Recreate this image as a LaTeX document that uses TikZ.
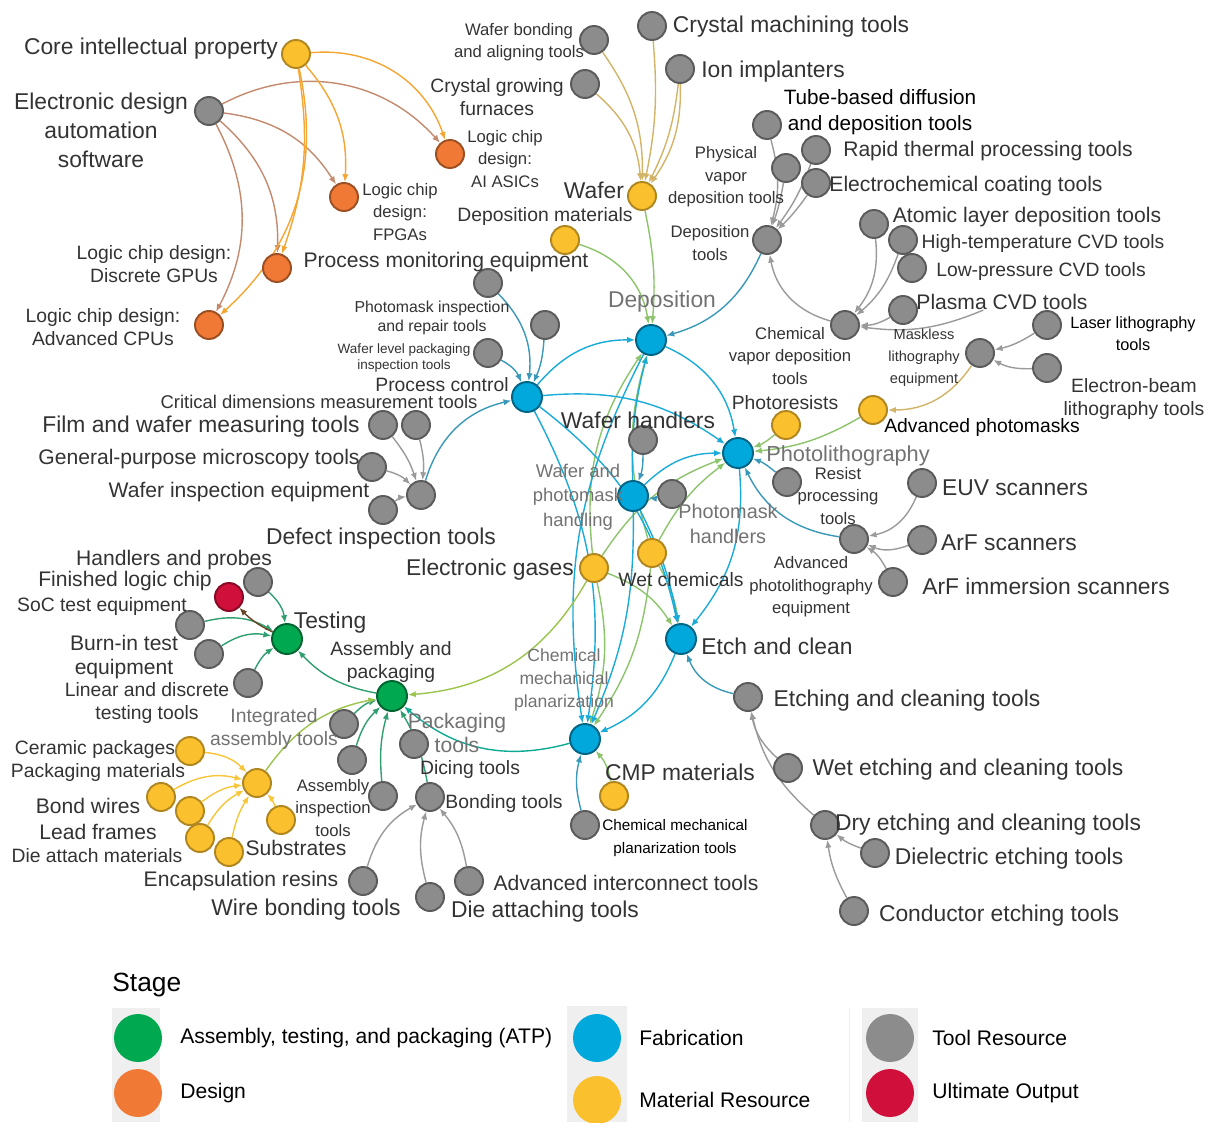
\documentclass[tikz,border=0pt]{standalone}
\usepackage{fontspec}
\setmainfont{Liberation Sans}
\usetikzlibrary{arrows.meta}

\definecolor{atpgreen}{HTML}{00A850}
\definecolor{designorange}{HTML}{F07A35}
\definecolor{fabblue}{HTML}{00A8DC}
\definecolor{matyellow}{HTML}{FBC02D}
\definecolor{toolgray}{HTML}{8C8C8C}
\definecolor{outred}{HTML}{D0103A}
\definecolor{txtgray}{HTML}{333333}
\definecolor{hubgray}{HTML}{727272}
\definecolor{legendbg}{HTML}{EFEFEF}
% edge colours
\definecolor{tooldesign}{HTML}{C48A6E}
\definecolor{matdesign}{HTML}{F5A532}
\definecolor{toolmat}{HTML}{D2B468}
\definecolor{matfab}{HTML}{8CC46C}
\definecolor{toolfab}{HTML}{3A98B8}
\definecolor{fabfab}{HTML}{1BABD8}
\definecolor{toolline}{HTML}{9A9A9A}
\definecolor{toolatp}{HTML}{2F9F70}
\definecolor{matatp}{HTML}{9CC44C}
\definecolor{matmat}{HTML}{F7C53A}

\pgfdeclarelayer{background}
\pgfsetlayers{background,main}

\tikzstyle{vertex}=[circle,draw,minimum size=0.56cm,inner sep=0pt,line width=1.1pt]
\tikzstyle{toolvertex}=[vertex,fill=toolgray,draw=toolgray!65!black]
\tikzstyle{matvertex}=[vertex,fill=matyellow,draw=matyellow!70!black]
\tikzstyle{designvertex}=[vertex,fill=designorange,draw=designorange!65!black]
\tikzstyle{fabvertex}=[vertex,fill=fabblue,draw=fabblue!60!black,minimum size=0.6cm]
\tikzstyle{atpvertex}=[vertex,fill=atpgreen,draw=atpgreen!60!black,minimum size=0.6cm]
\tikzstyle{outvertex}=[vertex,fill=outred,draw=outred!65!black]
\tikzstyle{lbl}=[inner sep=0pt,align=center,text=txtgray]
\tikzstyle{biglbl}=[lbl,font=\fontsize{13}{16.5}\selectfont]
\tikzstyle{midlbl}=[lbl,font=\fontsize{12}{14}\selectfont]
\tikzstyle{smlbl}=[lbl,font=\fontsize{11}{13.5}\selectfont]
\tikzstyle{xslbl}=[lbl,font=\fontsize{9.5}{12.8}\selectfont]
\tikzstyle{hublbl}=[lbl,text=hubgray]
\tikzstyle{edge}=[draw,line width=0.8pt,-{Latex[length=4.5pt,width=3.6pt]}]
\tikzstyle{keydot}=[circle,minimum size=0.96cm,inner sep=0pt]
\tikzstyle{keytext}=[anchor=west,inner sep=0pt,text=black,font=\fontsize{12}{14}\selectfont]

\begin{document}
\begin{tikzpicture}[x=0.02cm,y=-0.02cm]
\useasboundingbox (0,0) rectangle (1212,1122);

%% nodes
\foreach \x/\y/\name in {450/154/asic, 344/197/fpga, 277/268/gpu, 209/325/cpu}
  \node[designvertex] (\name) at (\x,\y) {};

\foreach \x/\y/\name in {296/54/cip, 642/196/wafer, 565/240/depmat, 786/425/presist, 873/410/amask,
    594/568/egas, 652/553/wetchem, 614/796/cmpmat, 190/751/cer, 257/783/pkm, 161/797/bw,
    190/811/lf, 200/838/lfb, 229/852/dam, 281/820/sub}
  \node[matvertex] (\name) at (\x,\y) {};

\foreach \x/\y/\name in {527/397/pctl, 651/340/dep, 738/453/litho, 633/496/wph, 681/639/etch, 585/739/cmp}
  \node[fabvertex] (\name) at (\x,\y) {};

\foreach \x/\y/\name in {287/639/test, 392/696/assy}
  \node[atpvertex] (\name) at (\x,\y) {};

\node[outvertex] (chip) at (229,597) {};

\foreach \x/\y/\name in {209/111/eda, 594/40/wba, 585/84/cgf, 652/26/cmt, 680/69/ion,
    488/283/pme, 545/325/pir, 488/353/wlp, 383/425/fwm, 416/425/cdm, 372/467/gpm, 383/510/wie, 421/495/dit,
    767/240/dtools, 786/168/pvd, 767/125/tube, 816/150/rtp, 816/183/ecc,
    845/325/cvd, 874/224/ald, 903/240/htcvd, 912/268/lpcvd, 903/310/pcvd,
    980/353/mless, 1047/325/laser, 1047/368/ebeam, 787/482/resist, 854/539/apl,
    922/483/euv, 922/540/arf, 893/582/arfi, 643/440/whand, 672/494/phand,
    748/697/ectools, 788/768/wetet, 825/825/dryet, 875/853/diel, 854/911/cond, 585/825/cmptools,
    258/582/hp, 190/625/soc, 209/654/burn, 248/683/lin,
    344/724/iat, 352/760/ga, 383/796/ait, 414/744/pkt, 430/797/bond,
    363/881/encap, 430/897/wbt, 469/881/aict}
  \node[toolvertex] (\name) at (\x,\y) {};

%% labels
\foreach \x/\y/\name/\text in {151/49/cip/Core intellectual property,
    101/130/eda/{Electronic design\\automation\\software},
    791/27/cmt/Crystal machining tools, 773/72/ion/Ion implanters, 594/190/wafer/Wafer,
    201/427/fwm/Film and wafer measuring tools, 381/539/dit/Defect inspection tools,
    490/570/egas/Electronic gases, 638/420/whand/Wafer handlers,
    1015/488/euv/EUV scanners, 1009/543/arf/ArF scanners, 1046/586/arfi/ArF immersion scanners,
    777/646/etch/Etch and clean, 907/701/ectools/Etching and cleaning tools,
    968/770/wetet/Wet etching and cleaning tools, 988/825/dryet/Dry etching and cleaning tools,
    1009/859/diel/Dielectric etching tools, 999/916/cond/Conductor etching tools,
    680/772/cmpmat/CMP materials, 330/623/test/Testing,
    306/910/wbt/Wire bonding tools, 545/912/dat/Die attaching tools}
  \node[biglbl] (l\name) at (\x,\y) {\text};

\foreach \x/\y/\name/\text in {446/262/pme/Process monitoring equipment,
    988/151/rtp/Rapid thermal processing tools, 966/186/ecc/Electrochemical coating tools,
    1027/217/ald/Atomic layer deposition tools, 1002/302/pcvd/Plasma CVD tools,
    239/492/wie/Wafer inspection equipment, 199/459/gpm/General-purpose microscopy tools,
    174/560/hp/Handlers and probes, 125/581/chip/Finished logic chip,
    241/881/encap/Encapsulation resins, 626/883/aict/Advanced interconnect tools,
    124/657/burn/{Burn-in test\\equipment}, 88/806/bw/Bond wires, 98/832/lf/Lead frames,
    296/848/sub/Substrates}
  \node[midlbl] (l\name) at (\x,\y) {\text};

\foreach \x/\y/\name/\text in {154/264/gpu/{Logic chip design:\\Discrete GPUs},
    103/327/cpu/{Logic chip design:\\Advanced CPUs}, 497/97/cgf/{Crystal growing\\furnaces},
    545/217/depmat/Deposition materials, 442/385/pctl/Process control,
    1043/244/htcvd/High-temperature CVD tools, 1041/271/lpcvd/Low-pressure CVD tools,
    1134/399/ebeam/{Electron-beam\\lithography tools}, 785/403/presist/Photoresists,
    681/580/wetchem/Wet chemicals, 102/606/soc/SoC test equipment,
    147/703/lin/{Linear and discrete\\testing tools}, 470/769/dice/Dicing tools,
    504/803/bond/Bonding tools, 95/749/cer/Ceramic packages, 98/772/pkm/Packaging materials,
    97/856/dam/Die attach materials, 391/662/assy/{Assembly and\\packaging}}
  \node[smlbl] (l\name) at (\x,\y) {\text};

\foreach \x/\y/\name/\text in {505/159/asic/{Logic chip\\design:\\AI ASICs},
    400/212/fpga/{Logic chip\\design:\\FPGAs}, 519/42/wba/{Wafer bonding\\and aligning tools},
    710/243/dtools/{Deposition\\tools}, 726/177/pvd/{Physical\\vapor\\deposition tools},
    790/356/cvd/{Chemical\\vapor deposition\\tools}, 838/496/resist/{Resist\\processing\\tools},
    811/587/apl/{Advanced\\photolithography\\equipment}, 333/808/ait/{Assembly\\inspection\\tools}}
  \node[xslbl] (l\name) at (\x,\y) {\text};

\node[lbl,font=\fontsize{10.5}{12}\selectfont] (lcdm) at (319,402) {Critical dimensions measurement tools};
\node[lbl,font=\fontsize{9}{10.8}\selectfont] (lpir) at (432,318) {Photomask inspection\\and repair tools};
\node[lbl,font=\fontsize{7.7}{9.6}\selectfont] (lwlp) at (404,358) {Wafer level packaging\\inspection tools};
\node[lbl,font=\fontsize{8.3}{12.4}\selectfont] (lmless) at (924,358) {Maskless\\lithography\\equipment};
\node[lbl,text=black,font=\fontsize{11.8}{14.7}\selectfont] (ltube) at (880,112) {Tube-based diffusion\\and deposition tools};
\node[lbl,text=black,font=\fontsize{11}{13}\selectfont] (lamask) at (982,427) {Advanced photomasks};
\node[lbl,text=black,font=\fontsize{9.3}{12.4}\selectfont] (llaser) at (1133,334) {Laser lithography\\tools};
\node[lbl,text=black,font=\fontsize{8.7}{13.6}\selectfont] (lcmptools) at (675,838) {Chemical mechanical\\planarization tools};

% stage hubs
\node[hublbl,font=\fontsize{13}{16}\selectfont] (ldep) at (662,302) {Deposition};
\node[hublbl,font=\fontsize{12.4}{15}\selectfont] (llitho) at (848,456) {Photolithography};
\node[hublbl,font=\fontsize{10.5}{14}\selectfont] (lwph) at (578,497) {Wafer and\\photomask\\handling};
\node[hublbl,font=\fontsize{11.3}{14}\selectfont] (lphand) at (728,524) {Photomask\\handlers};
\node[hublbl,font=\fontsize{10}{13.3}\selectfont] (lcmp) at (564,680) {Chemical\\mechanical\\planarization};
\node[hublbl,font=\fontsize{11}{13}\selectfont] (liat) at (274,729) {Integrated\\assembly tools};
\node[hublbl,font=\fontsize{12}{14}\selectfont] (lpkt) at (457,733) {Packaging\\tools};

%% links
\begin{pgfonlayer}{background}
\foreach \source/\dest/\bend in {eda/asic/38, eda/fpga/25, eda/gpu/25, eda/cpu/28}
  \draw[edge,tooldesign] (\source) to[bend left=\bend] (\dest);

\foreach \source/\dest/\bend in {cip/asic/38, cip/fpga/22, cip/gpu/14, cip/cpu/30}
  \draw[edge,matdesign] (\source) to[bend left=\bend] (\dest);

\foreach \source/\dest/\bend in {wba/wafer/18, cgf/wafer/22, cmt/wafer/8, ion/wafer/10, ion/wafer/18, mless/amask/28}
  \draw[edge,toolmat] (\source) to[bend left=\bend] (\dest);

\foreach \source/\dest/\bend in {wafer/dep/8, depmat/dep/32, presist/litho/10, amask/litho/12,
    egas/dep/20, egas/litho/18, egas/etch/18, egas/cmp/15,
    wetchem/dep/16, wetchem/litho/12, wetchem/etch/10, wetchem/cmp/14, cmpmat/cmp/-15}
  \draw[edge,matfab] (\source) to[bend left=\bend] (\dest);

\foreach \source/\dest/\bend in {pme/pctl/25, pir/pctl/10, wlp/pctl/20, dit/pctl/30, dtools/dep/25,
    resist/litho/-10, apl/litho/28, whand/wph/10, phand/wph/10, ectools/etch/28, cmptools/cmp/15}
  \draw[edge,toolfab] (\source) to[bend left=\bend] (\dest);

\foreach \source/\dest/\bend in {pctl/dep/25, pctl/litho/20, pctl/etch/20, pctl/cmp/18,
    dep/litho/28, dep/cmp/-18, wph/dep/8, wph/litho/22, wph/etch/8, wph/cmp/12,
    litho/etch/22, etch/cmp/22}
  \draw[edge,fabfab] (\source) to[bend left=\bend] (\dest);

\draw[edge,fabfab!50!atpgreen] (cmp) to[bend left=28] (assy);

\foreach \source/\dest/\bend in {fwm/dit/10, cdm/dit/10, gpm/dit/15, wie/dit/15,
    tube/dtools/15, pvd/dtools/5, rtp/dtools/8, ecc/dtools/5, cvd/dtools/32,
    ald/cvd/22, htcvd/cvd/15, lpcvd/cvd/15, pcvd/cvd/15,
    laser/mless/10, ebeam/mless/15, euv/apl/28, arf/apl/22, arfi/apl/-15,
    wetet/ectools/18, dryet/ectools/18, diel/dryet/10, cond/dryet/10,
    encap/bond/22, wbt/bond/15, aict/bond/-15}
  \draw[edge,toolline] (\source) to[bend left=\bend] (\dest);

\foreach \source/\dest/\bend in {hp/test/20, soc/test/22, burn/test/22, lin/test/15,
    iat/assy/15, ga/assy/15, ait/assy/10, bond/assy/-10, assy/test/18}
  \draw[edge,toolatp] (\source) to[bend left=\bend] (\dest);

\foreach \source/\dest/\bend in {pkm/assy/22, egas/assy/28}
  \draw[edge,matatp] (\source) to[bend left=\bend] (\dest);

\foreach \source/\dest/\bend in {cer/pkm/20, bw/pkm/22, lf/pkm/15, lfb/pkm/15, dam/pkm/10, sub/pkm/-10}
  \draw[edge,matmat] (\source) to[bend left=\bend] (\dest);

\draw[edge,black!45!brown] (test) to[bend left=10] (chip);
\end{pgfonlayer}

%% legend
\fill[legendbg] (112,1008) rectangle (160,1122);
\fill[legendbg] (567,1006) rectangle (627,1122);
\fill[legendbg] (862,1008) rectangle (918,1122);
\draw[legendbg] (849,1008) -- (849,1122);
\node[anchor=west,inner sep=0pt,text=black,font=\fontsize{15}{18}\selectfont] (stage) at (112,985) {Stage};
\foreach \x/\y/\name/\col in {138/1038/katp/atpgreen, 138/1093/kdesign/designorange,
    597/1038/kfab/fabblue, 597/1100/kmat/matyellow, 890/1038/ktool/toolgray, 890/1093/kout/outred}
  \node[keydot,fill=\col] (\name) at (\x,\y) {};
\foreach \name/\text in {katp/{Assembly, testing, and packaging (ATP)}, kdesign/Design,
    kfab/Fabrication, kmat/Material Resource, ktool/Tool Resource, kout/Ultimate Output}
  \node[keytext] (\name-t) at ([xshift=0.84cm]\name.center) {\text};

\end{tikzpicture}
\end{document}
